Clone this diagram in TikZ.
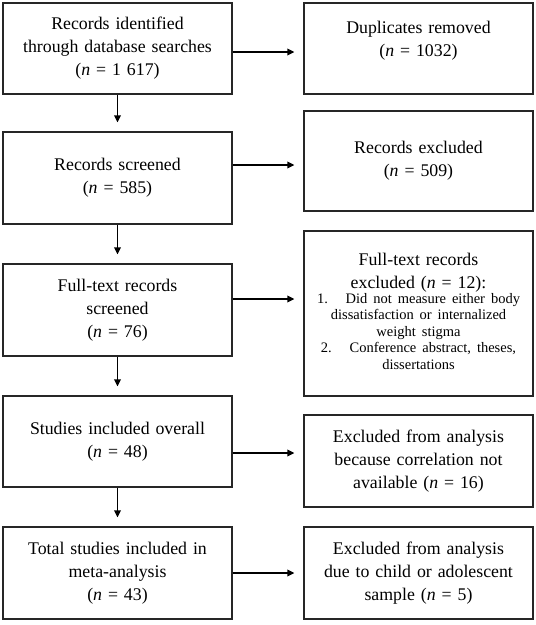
\documentclass[tikz,border=0pt]{standalone}
\usepackage{fontspec}
\setmainfont{Liberation Serif}
\usetikzlibrary{arrows.meta}
\tikzset{
 box/.style={draw=black!85, line width=1.2pt, align=center, text width=222pt, inner sep=0pt,
   minimum width=229pt, font=\fontsize{17.8}{23}\selectfont},
 arr/.style={line width=1.7pt, -{Triangle[length=7pt,width=6.5pt]}, shorten >=9pt},
}
\begin{document}
\begin{tikzpicture}[x=1pt,y=-1pt]
\useasboundingbox (0,0) rectangle (536,625);
% left column
\node[box,minimum height=91pt] (ident) at (117.5,48.5) {Records identified\\through database searches\\(\textit{n} = 1 617)};
\node[box,minimum height=92pt] (screen) at (117.5,178) {Records screened\\(\textit{n} = 585)};
\node[box,minimum height=92pt] (fulltext) at (117.5,310) {Full-text records\\screened\\(\textit{n} = 76)};
\node[box,minimum height=91pt] (overall) at (117.5,441.5) {Studies included overall\\(\textit{n} = 48)};
\node[box,minimum height=92pt] (meta) at (117.5,573) {Total studies included in\\meta-analysis\\(\textit{n} = 43)};
% right column
\node[box,minimum height=91pt] (dupl) at (418.5,48.5) {Duplicates removed\\(\textit{n} = 1032)\\[-4pt]\mbox{}};
\node[box,minimum height=100pt] (recexcl) at (418.5,161) {Records excluded\\(\textit{n} = 509)};
\node[box,minimum height=165pt] (ftexcl) at (418.5,313.5) {Full-text records\\excluded (\textit{n} = 12):\\[-1pt]
  {\fontsize{14.5}{16.5}\selectfont\begin{tabular}{@{}c@{}}
  1.~~~Did not measure either body\\
  dissatisfaction or internalized\\
  weight stigma\\
  2.~~~Conference abstract, theses,\\
  dissertations
  \end{tabular}}};
\node[box,minimum height=92pt] (nocorr) at (418.5,461) {Excluded from analysis\\because correlation not\\available (\textit{n} = 16)};
\node[box,minimum height=92pt] (child) at (418.5,573) {Excluded from analysis\\due to child or adolescent\\sample (\textit{n} = 5)};
% arrow rows
\coordinate (r1) at (0,52);
\coordinate (r2) at (0,165);
\coordinate (r3) at (0,299);
\coordinate (r4) at (0,453);
\coordinate (r5) at (0,573);
\draw[arr] (ident.south) -- (screen.north);
\draw[arr] (screen.south) -- (fulltext.north);
\draw[arr] (fulltext.south) -- (overall.north);
\draw[arr] (overall.south) -- (meta.north);
\draw[arr] (ident.east |- r1) -- (dupl.west |- r1);
\draw[arr] (screen.east |- r2) -- (recexcl.west |- r2);
\draw[arr] (fulltext.east |- r3) -- (ftexcl.west |- r3);
\draw[arr] (overall.east |- r4) -- (nocorr.west |- r4);
\draw[arr] (meta.east |- r5) -- (child.west |- r5);
\end{tikzpicture}
\end{document}
